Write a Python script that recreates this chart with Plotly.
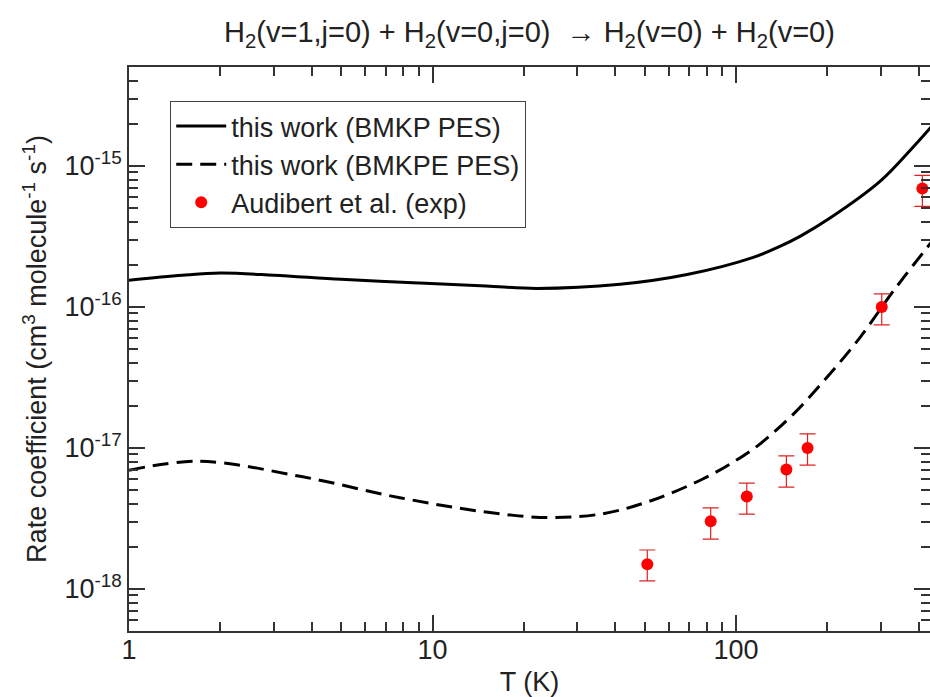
import plotly.graph_objects as go

# ---- data ----
T_bmkp = [1, 1.5, 2, 3, 5, 9, 15, 22, 41.5, 69, 114, 140, 163, 204, 298, 384, 440]
k_bmkp = [1.55e-16, 1.68e-16, 1.74e-16, 1.68e-16, 1.57e-16, 1.48e-16, 1.41e-16, 1.355e-16,
          1.45e-16, 1.70e-16, 2.25e-16, 2.70e-16, 3.18e-16, 4.27e-16, 7.77e-16, 1.37e-15, 1.90e-15]

T_bmkpe = [1, 1.7, 3.7, 7.8, 15, 24, 36.5, 53, 78, 100, 120, 154.5, 199, 256, 330, 425, 440]
k_bmkpe = [6.95e-18, 8.05e-18, 6.27e-18, 4.44e-18, 3.51e-18, 3.21e-18, 3.42e-18, 4.26e-18,
           6.05e-18, 8.17e-18, 1.07e-17, 1.74e-17, 3.16e-17, 6.07e-17, 1.30e-16, 2.62e-16, 2.88e-16]

T_exp = [51, 82.5, 108.5, 146.5, 172, 302, 411]
k_exp = [1.50e-18, 3.02e-18, 4.52e-18, 7.05e-18, 1.00e-17, 1.00e-16, 6.93e-16]
k_exp_hi = [1.89e-18, 3.76e-18, 5.64e-18, 8.80e-18, 1.26e-17, 1.24e-16, 8.57e-16]
k_exp_lo = [1.14e-18, 2.26e-18, 3.40e-18, 5.28e-18, 7.55e-18, 7.46e-17, 5.17e-16]

x_major = [1, 10, 100]
x_major_text = ["1", "10", "100"]
y_major = [1e-18, 1e-17, 1e-16, 1e-15]
y_major_text = ["10<sup>-18</sup>", "10<sup>-17</sup>", "10<sup>-16</sup>", "10<sup>-15</sup>"]

err_plus = [h - k for h, k in zip(k_exp_hi, k_exp)]
err_minus = [k - l for k, l in zip(k_exp, k_exp_lo)]

x_minor = [m * d for d in (1, 10, 100) for m in range(2, 10)]
y_minor = [m * d for d in (1e-19, 1e-18, 1e-17, 1e-16, 1e-15) for m in range(2, 10)]

X_RANGE = [0, 2.639]
Y_RANGE = [-18.298, -14.298]

FONT = "Liberation Sans, Arial, Helvetica, sans-serif"
TXT = "#222"

fig = go.Figure()
fig.add_trace(go.Scatter(x=T_bmkp, y=k_bmkp, mode="lines", name="this work (BMKP PES)",
                         line=dict(color="black", width=3, shape="spline")))
fig.add_trace(go.Scatter(x=T_bmkpe, y=k_bmkpe, mode="lines", name="this work (BMKPE PES)",
                         line=dict(color="black", width=3, dash="16px,8px", shape="spline")))
fig.add_trace(go.Scatter(x=T_exp, y=k_exp, mode="markers", name="Audibert et al. (exp)",
                         marker=dict(color="red", size=12),
                         error_y=dict(type="data", symmetric=False, array=err_plus,
                                      arrayminus=err_minus, color="#dd2222",
                                      thickness=1.2, width=8)))

major = dict(
    type="log", showline=True, linecolor="#333333", linewidth=1.5, mirror="ticks",
    ticks="inside", ticklen=16, tickwidth=1.5, tickcolor="#333333", showgrid=False,
    zeroline=False, tickfont=dict(family=FONT, size=27, color=TXT), tickmode="array",
    layer="above traces",
)
minor_style = dict(tickmode="array", ticks="inside", ticklen=9, tickwidth=1.5,
                   tickcolor="#333333", showgrid=False)

fig.update_layout(
    template="none",
    width=930, height=697,
    margin=dict(l=129, r=0, t=67, b=66),
    paper_bgcolor="white", plot_bgcolor="white",
    xaxis=dict(**major, range=X_RANGE, tickvals=x_major, ticktext=x_major_text,
               ticklabelstandoff=-6,
               minor=dict(**minor_style, tickvals=x_minor),
               title=dict(text="T (K)", font=dict(family=FONT, size=27, color=TXT), standoff=10)),
    yaxis=dict(**major, range=Y_RANGE, tickvals=y_major, ticktext=y_major_text,
               minor=dict(**minor_style, tickvals=y_minor),
               title=dict(text="Rate coefficient (cm<sup>3</sup> molecule<sup>-1</sup> s<sup>-1</sup>)",
                          font=dict(family=FONT, size=27, color=TXT), standoff=10)),
    title=dict(text="H<sub>2</sub>(v=1,j=0) + H<sub>2</sub>(v=0,j=0)  \u2192 H<sub>2</sub>(v=0) + H<sub>2</sub>(v=0)",
               x=0.5, xref="paper", xanchor="center", y=0.954, yref="container",
               yanchor="middle", font=dict(family=FONT, size=29, color=TXT)),
    legend=dict(x=0.0512, y=0.94, xanchor="left", yanchor="top",
                bgcolor="white", bordercolor="#444444", borderwidth=1.2,
                font=dict(family=FONT, size=27, color=TXT),
                itemwidth=50, tracegroupgap=0),
    showlegend=True,
)

fig.write_html("out.html")
